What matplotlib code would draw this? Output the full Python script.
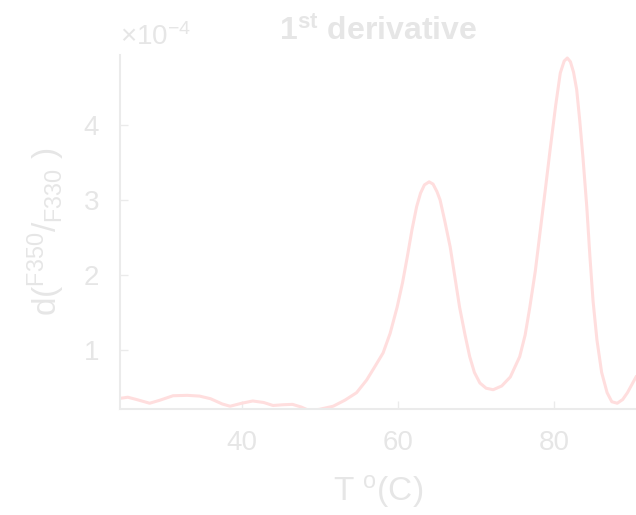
import matplotlib
matplotlib.use('Agg')
import matplotlib.pyplot as plt

# Adatok (x10^-4)
temp = [24.4, 25.4, 26.5, 28.2, 29.5, 31.2, 33.0, 34.6, 36.0, 37.5, 38.5, 40.0,
        41.4, 42.8, 44.0, 45.3, 46.5, 47.6, 48.7, 50.0, 51.7, 53.2, 54.7, 56.0,
        57.0, 58.1, 59.0, 59.9, 60.6, 61.2, 61.8, 62.4, 62.9, 63.4, 64.0, 64.5,
        65.0, 65.4, 66.0, 66.7, 67.3, 67.9, 68.6, 69.2, 69.8, 70.5, 71.3, 72.2,
        73.3, 74.4, 75.6, 76.3, 76.9, 77.6, 78.2, 78.9, 79.5, 80.2, 80.8, 81.3,
        81.7, 82.1, 82.5, 82.9, 83.3, 83.7, 84.2, 84.6, 85.0, 85.5, 86.1, 86.8,
        87.4, 88.1, 88.8, 89.4, 90.5]
deriv = [0.355, 0.37, 0.34, 0.29, 0.33, 0.39, 0.395, 0.385, 0.35, 0.28, 0.25, 0.29,
         0.32, 0.30, 0.26, 0.27, 0.275, 0.24, 0.19, 0.21, 0.25, 0.33, 0.43, 0.6,
         0.77, 0.96, 1.22, 1.57, 1.9, 2.24, 2.6, 2.91, 3.09, 3.2, 3.24, 3.21,
         3.11, 3.0, 2.72, 2.37, 1.97, 1.57, 1.2, 0.91, 0.7, 0.56, 0.49, 0.47,
         0.52, 0.64, 0.91, 1.2, 1.57, 2.05, 2.56, 3.15, 3.67, 4.25, 4.69, 4.85,
         4.89, 4.84, 4.7, 4.47, 4.05, 3.57, 2.9, 2.24, 1.65, 1.13, 0.7, 0.43,
         0.31, 0.29, 0.34, 0.43, 0.64]
x_ticks = [40, 60, 80]
y_ticks = [1, 2, 3, 4]

plt.rcParams['font.family'] = 'Liberation Sans'
plt.rcParams['mathtext.fontset'] = 'custom'
plt.rcParams['mathtext.rm'] = 'Liberation Sans'
plt.rcParams['mathtext.it'] = 'Liberation Sans'
plt.rcParams['mathtext.bf'] = 'Liberation Sans:bold'

szurke = '#e6e6e6'
tengely = '#ebebeb'

fig = plt.figure(figsize=(6.36, 5.15), dpi=100)
ax = fig.add_axes([0.1887, 0.2058, 0.8113, 0.6874])
ax.plot(temp, deriv, color='#ffdede', linewidth=2.2)
ax.set_xlim(24.4, 90.5)
ax.set_ylim(0.213, 4.93)
ax.set_xticks(x_ticks)
ax.set_yticks(y_ticks)
ax.tick_params(direction='in', length=6, width=1, colors=tengely, labelcolor=szurke,
               labelsize=20, pad=15)
for s in ['top', 'right']:
    ax.spines[s].set_visible(False)
for s in ['left', 'bottom']:
    ax.spines[s].set_color(tengely)
    ax.spines[s].set_linewidth(1.5)

ax.set_title(r'$\mathbf{1^{st}\ derivative}$', fontsize=23, color=szurke, pad=10)
ax.set_xlabel(r'T $^{\mathrm{o}}$(C)', fontsize=24, color=szurke, labelpad=12)
ax.set_ylabel(r'd($^{\mathrm{F350}}$/$_{\mathrm{F330}}$ )', fontsize=24, color=szurke, labelpad=12)
ax.text(0.0, 1.01, r'$\times10^{-4}$', transform=ax.transAxes, fontsize=20,
        color=szurke, ha='left', va='bottom')

fig.savefig('out.png', dpi=100)
